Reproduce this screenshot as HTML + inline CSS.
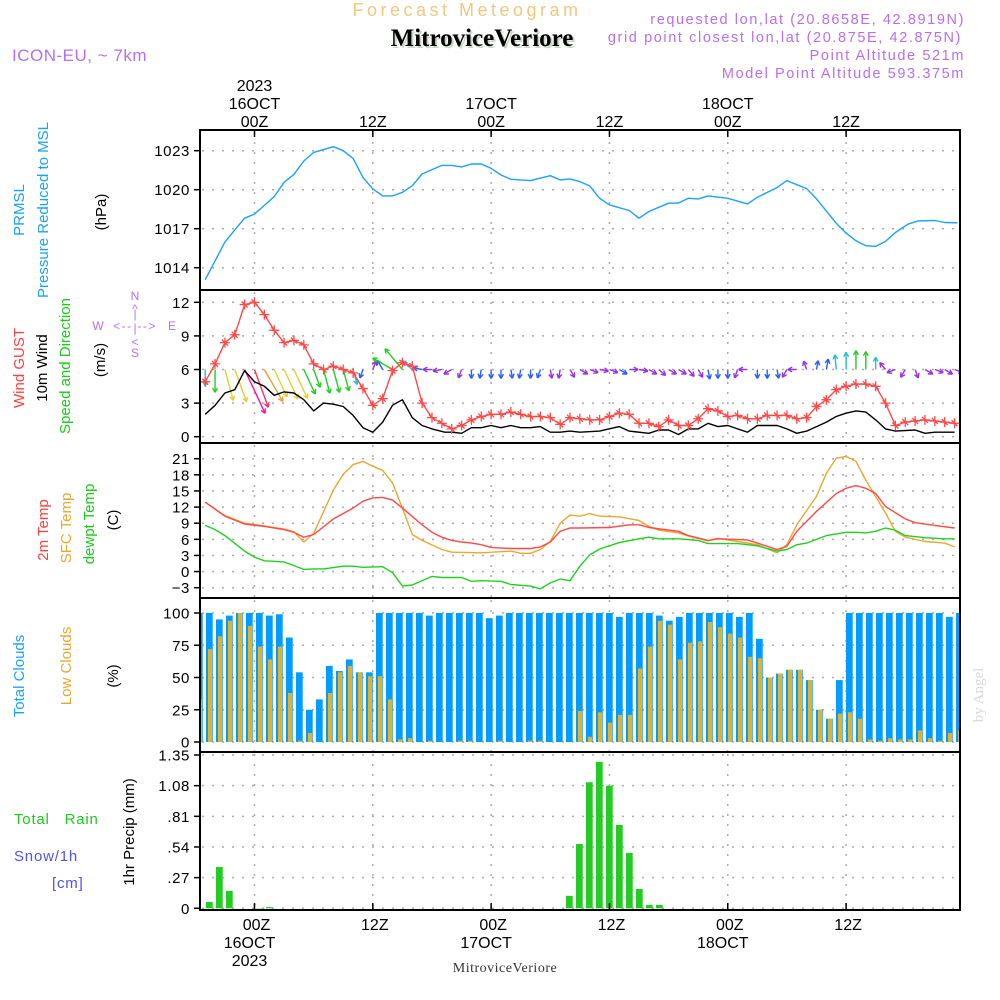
<!DOCTYPE html>
<html><head><meta charset="utf-8"><title>Forecast Meteogram</title>
<style>
html,body{margin:0;padding:0;background:#fff;}
svg{display:block;font-family:"Liberation Sans",sans-serif;}
</style></head>
<body>
<svg id="chart" width="1000" height="1000" viewBox="0 0 1000 1000" xmlns="http://www.w3.org/2000/svg">
  <!-- header -->
  <text x="467" y="16" text-anchor="middle" font-size="18" fill="#f2c77e" letter-spacing="3.5">Forecast Meteogram</text>
  <g font-size="14.5" fill="#b86ef0" text-anchor="end" letter-spacing="1.6">
    <text x="965" y="24">requested lon,lat (20.8658E, 42.8919N)</text>
    <text x="962" y="42">grid point closest lon,lat (20.875E, 42.875N)</text>
    <text x="965" y="60">Point Altitude 521m</text>
    <text x="965" y="78">Model Point Altitude 593.375m</text>
  </g>
  <text x="484" y="48" text-anchor="middle" font-size="25" font-weight="bold" fill="#c8d8c8" font-family="Liberation Serif, serif">MitroviceVeriore</text>
  <text x="482" y="46" text-anchor="middle" font-size="25" font-weight="bold" fill="#000" font-family="Liberation Serif, serif">MitroviceVeriore</text>
  <text x="12" y="61" font-size="17" fill="#b86ef0" letter-spacing="0.5">ICON-EU, ~ 7km</text>
  <!-- left labels -->
  <g font-size="15">
    <text transform="translate(24,210) rotate(-90)" text-anchor="middle" fill="#1aa0ff">PRMSL</text>
    <text transform="translate(48,210) rotate(-90)" text-anchor="middle" fill="#1aa0ff">Pressure Reduced to MSL</text>
    <text transform="translate(106,212) rotate(-90)" text-anchor="middle" fill="#000">(hPa)</text>
    <text transform="translate(24,368) rotate(-90)" text-anchor="middle" fill="#ff4040">Wind GUST</text>
    <text transform="translate(47,368) rotate(-90)" text-anchor="middle" fill="#000">10m Wind</text>
    <text transform="translate(70,366) rotate(-90)" text-anchor="middle" fill="#20c820">Speed and Direction</text>
    <text transform="translate(105,360) rotate(-90)" text-anchor="middle" fill="#000">(m/s)</text>
    <text transform="translate(48,530) rotate(-90)" text-anchor="middle" fill="#ff4040">2m Temp</text>
    <text transform="translate(71,528) rotate(-90)" text-anchor="middle" fill="#e8a830">SFC Temp</text>
    <text transform="translate(94,524) rotate(-90)" text-anchor="middle" fill="#20c820">dewpt Temp</text>
    <text transform="translate(118,520) rotate(-90)" text-anchor="middle" fill="#000">(C)</text>
    <text transform="translate(24,676) rotate(-90)" text-anchor="middle" fill="#1aa0ff">Total Clouds</text>
    <text transform="translate(71,666) rotate(-90)" text-anchor="middle" fill="#e8a830">Low Clouds</text>
    <text transform="translate(118,676) rotate(-90)" text-anchor="middle" fill="#000">(%)</text>
    <text x="14" y="824" fill="#20c820" letter-spacing="0.8">Total&#160;&#160;&#160;Rain</text>
    <text x="14" y="861" fill="#5050f0" letter-spacing="0.8">Snow/1h</text>
    <text x="52" y="888" fill="#5050f0" letter-spacing="0.8">[cm]</text>
    <text transform="translate(134,832) rotate(-90)" text-anchor="middle" fill="#000">1hr Precip (mm)</text>
  </g>
  <!-- compass -->
  <g fill="#b86ef0" font-size="12">
    <text x="135" y="300" text-anchor="middle">N</text>
    <text x="135" y="313" text-anchor="middle">^</text>
    <text x="135" y="318" text-anchor="middle">|</text>
    <text x="98" y="330" text-anchor="middle">W</text>
    <text x="135" y="330" text-anchor="middle" letter-spacing="1.5">&lt;-- --&gt;</text>
    <text x="135" y="332" text-anchor="middle">|</text>
    <text x="172" y="330" text-anchor="middle">E</text>
    <text x="135" y="346" text-anchor="middle">&lt;</text>
    <text x="135" y="357" text-anchor="middle">S</text>
  </g>
  <text transform="translate(983,695) rotate(-90)" text-anchor="middle" font-size="15" fill="#d8d8d8" font-family="Liberation Serif, serif">by Angel</text>
  <text x="505" y="972" text-anchor="middle" font-size="14" fill="#333" font-family="Liberation Serif, serif" letter-spacing="0.5">MitroviceVeriore</text>
  <g id="plots"></g>
</svg>
<script>
// ---------- data ----------
const tickHours = [0, 12, 24, 36, 48, 60];
const tickLabels = ["00Z", "12Z", "00Z", "12Z", "00Z", "12Z"];
const dayLabels = ["16OCT", "", "17OCT", "", "18OCT", ""];
const yearLabels = ["2023", "", "", "", "", ""];

const presHours = [-5,-3,-2,-1,0,2,3,4,5,6,8,9,10,11,12,13,14,15,16,17,19,20,21,22,23,24,25,26,28,30,31,32,33,34,35,36,38,39,40,42,43,44,45,46,48,50,51,53,54,56,57,59,60,61,62,63,64,65,66.3,67.3,69,70,71.3];
const presVals = [1013.08,1015.97,1016.91,1017.81,1018.12,1019.47,1020.57,1021.18,1022.21,1022.87,1023.31,1023.0,1022.41,1020.93,1020.06,1019.52,1019.52,1019.8,1020.31,1021.21,1021.87,1021.87,1021.75,1021.98,1021.98,1021.64,1021.13,1020.8,1020.7,1021.08,1020.75,1020.83,1020.62,1020.29,1019.34,1018.83,1018.4,1017.81,1018.32,1018.96,1018.98,1019.34,1019.29,1019.52,1019.34,1018.91,1019.42,1020.16,1020.7,1020.08,1019.29,1017.42,1016.66,1016.07,1015.69,1015.64,1016.02,1016.71,1017.35,1017.6,1017.63,1017.48,1017.45];
const presTicks = [1014, 1017, 1020, 1023];

const gustHours = [-5,-4,-3,-2,-1,0,1,2,3,4,5,6,7,8,9,10,11,12,13,14,15,16,17,18,19,20,21,22,23,24,25,26,27,28,29,30,31,32,33,34,35,36,37,38,39,40,41,42,43,44,45,46,47,48,49,50,51,52,53,54,55,56,57,58,59,60,61,62,63,64,65,66,67,68,69,70,71];
const gustVals = [4.9,6.5,8.4,9.1,11.8,12.0,10.9,9.5,8.4,8.6,8.2,6.5,6.0,6.3,6.0,5.7,4.3,2.8,3.4,5.9,6.6,6.3,3.0,1.7,1.2,0.7,1.0,1.5,1.8,2.0,2.0,2.2,2.0,1.8,1.8,1.7,1.1,1.7,1.6,1.5,1.5,1.8,2.1,2.0,1.2,1.2,0.9,1.5,1.0,1.0,1.6,2.5,2.3,1.8,1.9,1.6,1.6,1.9,1.9,1.9,1.6,1.7,2.7,3.3,4.2,4.5,4.7,4.7,4.5,3.0,1.0,1.3,1.4,1.5,1.4,1.3,1.2];
const windHours = [-5,-4,-3,-2,-1,0,1,2,3,4,5,6,7,8,9,10,11,12,13,14,15,16,17,18,19.3,20,21,22,23,24,25,26,27,28,29,30,31,32,33,35,37,38,40,41,42,43,44,45,46,47,48,49,50,51,53,54,55,56,58,59,60,61,62,63,64,65,67,68,69,71];
const windVals = [2.0,2.8,3.9,4.2,5.9,4.9,4.5,3.7,4.0,3.9,3.3,2.3,3.0,2.9,2.7,1.9,0.8,0.4,1.3,2.8,3.3,1.7,1.0,0.7,0.4,0.4,0.3,0.8,0.8,1.0,0.8,1.0,0.8,0.8,0.9,0.4,0.4,0.5,0.4,0.5,0.9,0.5,0.3,0.6,0.6,0.2,0.7,0.7,1.2,0.9,1.0,0.7,0.4,1.0,1.0,0.7,0.3,0.5,1.3,1.8,2.1,2.3,2.2,1.5,0.7,0.5,0.6,0.3,0.4,0.4];
const dirStart = -5;
const windDirs = [0,0,345,340,335,340,330,335,335,335,335,340,345,345,345,345,20,200,150,120,140,130,100,90,80,60,20,0,10,0,0,350,10,0,20,350,10,330,300,290,280,290,300,270,280,300,310,300,300,320,330,350,0,0,20,90,0,0,350,30,90,160,190,190,175,180,180,180,180,140,70,30,340,300,290,300,290];
const windTicks = [0, 3, 6, 9, 12];

const t2Hours = [-5,-3,-1,1,3,4,5,6,8,10,11,12,13,14,15,17,18,19,20,21,22,23,24,26,28,29,30,31,32,33,36,38,39,40,43,44,46,47,50,51,53,54,55,57,59,60,61,62,63,64,66,67,69,71];
const t2Vals = [12.9,10.3,8.85,8.4,7.8,7.3,6.4,6.9,9.8,11.8,13.1,13.7,13.8,13.3,11.8,8.7,7.3,6.4,5.8,5.5,5.3,5.0,4.5,4.3,4.3,4.6,5.5,7.5,8.1,8.1,8.2,8.7,8.7,8.2,7.5,6.7,5.8,6.1,5.9,5.3,4.1,4.7,7.5,11.2,14.5,15.5,16.0,15.5,14.5,12.1,9.8,9.1,8.6,8.1];
const sfcHours = [-5,-3,-1,1,3,4,5,6,8,9,10,11,12,13,14,15,16,17,19,20,23,26,27,28,29,30,31,32,33,34,35,37,39,40,41,43,44,46,47,49,51,53,54,55,57,58,59,60,61,62,64,65,66,68,70,71];
const sfcVals = [12.9,10.4,9.0,8.5,7.9,7.4,5.5,7.1,15.2,18.1,19.9,20.5,19.6,18.8,16.5,11.8,6.9,5.8,4.1,3.6,3.5,3.8,3.4,3.4,4.1,5.6,9.0,10.5,10.3,10.8,10.3,10.2,9.5,8.4,7.7,7.2,6.6,5.7,6.2,5.6,5.0,3.5,5.0,8.7,14.0,18.3,21.1,21.4,20.5,17.0,10.9,7.5,6.4,5.6,5.3,4.6];
const dewHours = [-5,-4,-3,-1,0,1,3,5,6,7,9,10,11,13,14,15,16,18,19,21,22,23,25,26,28,29,30,31,32,33,34,35,37,39,40,41,43,45,46,49,51,53,54,55,56,58,60,61,62,63,64,65,66,68,70,71];
const dewVals = [8.6,7.8,6.7,3.8,2.7,2.0,1.8,0.4,0.5,0.5,1.0,1.0,0.8,0.9,-0.2,-2.7,-2.5,-0.9,-1.1,-1.1,-1.8,-1.7,-1.8,-2.4,-2.7,-3.2,-2.1,-1.4,-1.7,1.0,3.1,4.2,5.4,6.1,6.4,6.1,6.1,5.8,5.2,5.2,4.8,3.8,4.1,5.0,5.3,6.7,7.3,7.3,7.2,7.5,8.1,7.7,6.7,6.3,6.1,6.1];
const tempTicks = [-3, 0, 3, 6, 9, 12, 15, 18, 21];

const barStart = -1; // bar index of first value
const totalClouds = [100,100,95,98,100,100,100,98,99,81,54,25,33,59,55,64,54,54,100,100,100,100,100,98,100,100,100,100,100,96,98,100,100,100,100,100,100,100,100,100,100,100,97,100,100,100,98,94,97,100,100,100,100,100,97,100,80,50,53,56,56,48,25,18,48,100,100,100,100,100,100,100,100,100,100,97,100];
const lowClouds = [33,72,82,94,100,90,74,64,74,38,1,7,0,38,54,59,54,51,51,33,2,3,0,1,0,0,1,1,0,0,1,0,0,1,1,0,0,0,24,4,23,15,21,21,57,74,94,91,64,77,78,93,89,84,81,66,65,50,53,56,56,48,25,18,22,23,18,2,1,3,2,2,9,3,1,7,9];
const cloudTicks = [0, 25, 50, 75, 100];

const precipVals = [0,0.056,0.364,0.153,0,0,0.003,0.01,0,0,0,0,0,0,0,0,0,0,0,0,0,0,0,0,0,0,0,0,0,0,0,0,0,0,0,0,0,0.11,0.566,1.11,1.29,1.08,0.734,0.487,0.17,0.03,0.03,0,0,0,0,0,0,0,0,0,0,0,0,0,0,0,0,0,0,0,0,0,0,0,0,0,0,0,0,0,0];
const precipTicks = [0, 0.27, 0.54, 0.81, 1.08, 1.35];

// ---------- scales ----------
const X0 = 200, X1 = 960;
const xT = h => 254.5 + 9.86 * h;
const xB = i => 206 + 10 * i;
const lin = (v0, p0, v1, p1) => v => p0 + (v - v0) * (p1 - p0) / (v1 - v0);
const yP = lin(1014, 267.7, 1023, 150.7);
const yW = lin(0, 436.7, 12, 302.3);
const yT = lin(-3, 587.7, 21, 458.7);
const yC = lin(0, 742, 100, 613);
const yR = lin(0, 908.3, 1.35, 755);
const panels = [
  {name:"pressure", top:130, bot:290, y:yP, ticks:presTicks, fmt:v=>v},
  {name:"wind", top:290, bot:443, y:yW, ticks:windTicks, fmt:v=>v},
  {name:"temperature", top:443, bot:598, y:yT, ticks:tempTicks, fmt:v=>(v<0?"\u2212"+(-v):v)},
  {name:"clouds", top:598, bot:752, y:yC, ticks:cloudTicks, fmt:v=>v},
  {name:"precip", top:752, bot:910, y:yR, ticks:precipTicks, fmt:v=>(v===0?"0":v.toFixed(2).replace(/^0/,""))}
];

const NS = "http://www.w3.org/2000/svg";
const root = document.getElementById("plots");
function mk(tag, attrs, parent) {
  const e = document.createElementNS(NS, tag);
  for (const k in attrs) e.setAttribute(k, attrs[k]);
  (parent || root).appendChild(e);
  return e;
}
function interp(hs, vs, h) {
  if (h <= hs[0]) return vs[0];
  for (let i = 1; i < hs.length; i++) if (h <= hs[i]) {
    const f = (h - hs[i-1]) / (hs[i] - hs[i-1]);
    return vs[i-1] + f * (vs[i] - vs[i-1]);
  }
  return vs[vs.length-1];
}

const defs = mk("defs", {});
panels.forEach((p, k) => {
  const cp = mk("clipPath", {id: "clip" + k}, defs);
  mk("rect", {x: X0, y: p.top, width: X1 - X0, height: p.bot - p.top}, cp);
});

// grids and axes
panels.forEach((p, k) => {
  const g = mk("g", {});
  
  
  p.ticks.forEach(v => {
    const y = p.y(v);
    const gl = mk("line", {x1: X0 + 2, x2: X1, y1: y, y2: y, stroke: "#aaa", "stroke-width": 1.5, "stroke-dasharray": "2,8"}, g);
    
    
    mk("line", {x1: X0 - 6, x2: X0, y1: y, y2: y, stroke: "#000", "stroke-width": 1.5}, g);
    const t = mk("text", {x: 190, y: y + 5.5, "text-anchor": "end", "font-size": 15, fill: "#000", "letter-spacing": 0.6}, g);
    t.textContent = p.fmt(v);
    
    
  });
  tickHours.forEach(h => {
    const x = xT(h);
    const vl = mk("line", {x1: x, x2: x, y1: p.top + 2, y2: p.bot, stroke: "#aaa", "stroke-width": 1.5, "stroke-dasharray": "2,8"}, g);
    
    
  });
});

function line(hs, vs, yf, color, name, clip) {
  const d = hs.map((h, i) => (i ? "L" : "M") + xT(h).toFixed(1) + "," + yf(vs[i]).toFixed(1)).join("");
  const e = mk("path", {d: d, fill: "none", stroke: color, "stroke-width": 1.4, "stroke-linejoin": "round", "clip-path": "url(#clip" + clip + ")"});
  
  
  return e;
}

// pressure
line(presHours, presVals, yP, "#1aa0ff", "pressure-line", 0);

// wind arrows
function speedColor(s) {
  if (s < 0.8) return "#9a30e0";
  if (s < 1.5) return "#2a5cff";
  if (s < 2.2) return "#20c0d8";
  if (s < 3.4) return "#20d020";
  if (s < 4.3) return "#e8d030";
  if (s < 4.7) return "#e8a030";
  if (s < 5.5) return "#ff3060";
  return "#ff10a0";
}
const arrows = mk("g", {"clip-path": "url(#clip1)"});


windDirs.forEach((d, i) => {
  const h = dirStart + i;
  const s = interp(windHours, windVals, h);
  const len = Math.max(9, 8.2 * s);
  const rad = d * Math.PI / 180;
  const dx = -Math.sin(rad), dy = Math.cos(rad);
  const x0 = xT(h), y0 = yW(6);
  const x1 = x0 + dx * len, y1 = y0 + dy * len;
  const col = speedColor(s);
  const a = mk("g", {stroke: col, "stroke-width": 1.4, fill: "none"}, arrows);
  
  
  mk("line", {x1: x0, y1: y0, x2: x1, y2: y1}, a);
  const hl = 5, ang = 0.5;
  const bx = -dx, by = -dy;
  [ang, -ang].forEach(r => {
    const cx = bx * Math.cos(r) - by * Math.sin(r), cy = bx * Math.sin(r) + by * Math.cos(r);
    mk("line", {x1: x1, y1: y1, x2: x1 + cx * hl, y2: y1 + cy * hl}, a);
  });
});

line(windHours, windVals, yW, "#000", "wind-speed-line", 1);
line(gustHours, gustVals, yW, "#ff4848", "wind-gust-line", 1);
const gm = mk("g", {stroke: "#ff4848", "stroke-width": 1.3, "clip-path": "url(#clip1)"});


gustHours.forEach((h, i) => {
  const x = xT(h), y = yW(gustVals[i]);
  const m = mk("path", {d: `M${x-5},${y}H${x+5}M${x},${y-5}V${y+5}M${x-3},${y-3}L${x+3},${y+3}`}, gm);
  
  
});

// temperatures
line(sfcHours, sfcVals, yT, "#e8a830", "sfc-temp-line", 2);
line(t2Hours, t2Vals, yT, "#ff4848", "temp-2m-line", 2);
line(dewHours, dewVals, yT, "#20d020", "dewpt-line", 2);

// clouds
const cg = mk("g", {"clip-path": "url(#clip3)"});


totalClouds.forEach((v, k) => {
  const i = barStart + k;
  const r = mk("rect", {x: xB(i), y: yC(v), width: 6.7, height: yC(0) - yC(v), fill: "#009cff"}, cg);
  
  
});
lowClouds.forEach((v, k) => {
  const i = barStart + k;
  const r = mk("rect", {x: xB(i) + 2, y: yC(v), width: 4, height: Math.max(0, yC(0) - yC(v)), fill: "#e6b02a"}, cg);
  
  
});

// precip
const pg = mk("g", {"clip-path": "url(#clip4)"});


precipVals.forEach((v, k) => {
  const i = barStart + k;
  if (v <= 0) return;
  const r = mk("rect", {x: xB(i), y: yR(v), width: 6.7, height: yR(0) - yR(v), fill: "#22cc22"}, pg);
  
  
});

// panel frames
panels.forEach(p => {
  const f = mk("rect", {x: X0, y: p.top, width: X1 - X0, height: p.bot - p.top, fill: "none", stroke: "#000", "stroke-width": 2});
  
  
});

// time axis labels
tickHours.forEach((h, i) => {
  const x = xT(h);
  mk("line", {x1: x, x2: x, y1: 130, y2: 137, stroke: "#000", "stroke-width": 1.5});
  mk("line", {x1: x, x2: x, y1: 903, y2: 910, stroke: "#000", "stroke-width": 1.5});
  const a = mk("text", {x: x, y: 127, "text-anchor": "middle", "font-size": 16, fill: "#000"});
  a.textContent = tickLabels[i];
  
  
  const b = mk("text", {x: x + 2, y: 930, "text-anchor": "middle", "font-size": 16, fill: "#000"});
  b.textContent = tickLabels[i];
  
  
  if (dayLabels[i]) {
    const c = mk("text", {x: x, y: 109, "text-anchor": "middle", "font-size": 16, fill: "#000"});
    c.textContent = dayLabels[i];
    
    
    const d = mk("text", {x: x - 5, y: 948, "text-anchor": "middle", "font-size": 16, fill: "#000"});
    d.textContent = dayLabels[i];
    
    
  }
  if (yearLabels[i]) {
    const c = mk("text", {x: x, y: 91, "text-anchor": "middle", "font-size": 16, fill: "#000"});
    c.textContent = yearLabels[i];
    
    
    const d = mk("text", {x: x - 5, y: 966, "text-anchor": "middle", "font-size": 16, fill: "#000"});
    d.textContent = yearLabels[i];
    
    
  }
});
</script>
</body></html>
